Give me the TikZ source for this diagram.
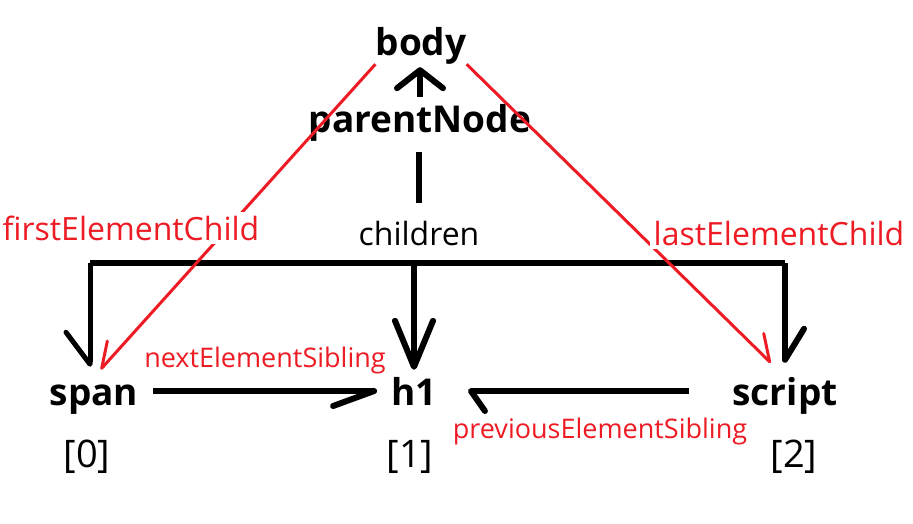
\documentclass[tikz,border=0pt]{standalone}
\usepackage{fontspec}
\setmainfont{Open Sans}
\usetikzlibrary{arrows.meta}
\definecolor{paintred}{RGB}{237,28,36}

\begin{document}
\begin{tikzpicture}[x=1pt,y=-1pt,
        blk/.style={line width=6pt},
        redln/.style={paintred,line width=3pt},
        elem/.style={font=\fontsize{37}{44}\selectfont\bfseries,inner sep=0pt,text height=28pt,text depth=0pt,anchor=base},
        lbl/.style={font=\fontsize{32}{38}\selectfont,inner sep=0pt,anchor=base},
        redlbl/.style={lbl,text=paintred,fill=white,inner sep=4pt},
        siblbl/.style={font=\fontsize{27}{32}\selectfont,text=paintred,inner sep=0pt,anchor=base},
        idx/.style={font=\fontsize{38}{44}\selectfont,inner sep=0pt,anchor=base}]
        \useasboundingbox (0,0) rectangle (913,523);
        \node[elem,text depth=9pt] (body) at (421,55) {body};
        \node[elem,text depth=9pt] (parentNode) at (420,132) {parentNode};
        \node[lbl,text height=24pt] (children) at (419,245) {children};
        \node[elem] (span) at (94,405) {span};
        \node[elem] (h1) at (414,405) {h1};
        \node[elem] (script) at (785,405) {script};
        \node[idx] (idx0) at (87,467) {[0]};
        \node[idx] (idx1) at (410,467) {[1]};
        \node[idx] (idx2) at (794,467) {[2]};
        \coordinate (barL) at (90,263);
        \coordinate (barR) at (785,263);
        \draw[blk,shorten <=18pt,shorten >=11pt] (children.north) -- (children.north |- parentNode.south);
        \draw[blk,shorten <=7pt,shorten >=3pt,-{Straight Barb[length=18pt,width=46pt,round]}] (parentNode.north) -- (parentNode.north |- body.south);
        \draw[blk] (barL) -- (barR);
        \draw[blk,line width=5pt,shorten >=10pt,-{Straight Barb[length=32pt,width=48pt,harpoon,swap,round]}] (barL) -- (barL |- span.north);
        \draw[blk,shorten >=7pt,-{Straight Barb[length=46pt,width=38pt,round]}] (barL -| h1.north) -- (h1.north);
        \draw[blk,shorten >=14pt,-{Straight Barb[length=31pt,width=38pt,harpoon,round]}] (barR) -- (barR |- script.north);
        \draw[blk,shorten <=15pt,shorten >=14pt,-{Straight Barb[length=41pt,width=30pt,harpoon,swap,round]}] (span.east) -- (h1.west);
        \draw[blk,shorten <=43pt,shorten >=31pt,-{Straight Barb[length=14pt,width=40pt,harpoon,round]}] (script.west) -- (h1.east);
        \node[siblbl] (nextLbl) at (265,367) {nextElementSibling};
        \node[siblbl] (prevLbl) at (600,438) {previousElementSibling};
        \draw[redln,shorten >=10pt,-{Straight Barb[length=24pt,width=28pt,harpoon,swap,round]}] (body.south west) -- (span.north);
        \draw[redln,shorten >=20pt,-{Straight Barb[length=24pt,width=32pt,harpoon,round]}] (body.south east) -- (script.north);
        \node[redlbl] (firstLbl) at (131,240) {firstElementChild};
        \node[redlbl] (lastLbl) at (779,245) {lastElementChild};
\end{tikzpicture}
\end{document}
